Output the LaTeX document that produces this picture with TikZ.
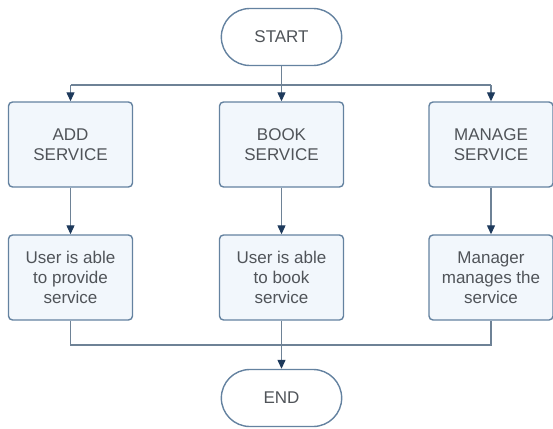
\documentclass[tikz,border=0pt]{standalone}
\usepackage{fontspec}
\setmainfont{Liberation Sans}
\usetikzlibrary{shapes.misc,arrows.meta}
\definecolor{boxfill}{HTML}{F2F7FC}
\definecolor{boxline}{HTML}{6482A0}
\definecolor{conn}{HTML}{6E8296}
\definecolor{tip}{HTML}{1E3A5C}
\definecolor{txt}{HTML}{505459}
\tikzset{
  procbox/.style={draw=boxline, line width=1.4pt, fill=boxfill, rounded corners=4pt,
    minimum width=124pt, minimum height=85pt, align=center, text=txt,
    font=\fontsize{17}{20}\selectfont, inner sep=2pt},
  termbox/.style={draw=boxline, line width=1.4pt, fill=white, rounded rectangle,
    minimum width=127pt, minimum height=57pt, text=txt,
    font=\fontsize{17}{20}\selectfont},
  conline/.style={draw=conn, line width=1.2pt},
  conarrow/.style={conline, -{Triangle[length=9pt,width=8pt,fill=tip,color=tip]}}
}
\begin{document}
\begin{tikzpicture}[x=1pt,y=-1pt]
\useasboundingbox (0,0) rectangle (553,428);
\node[termbox] (start) at (281.5,37) {START};
\node[procbox] (add) at (70.5,144.5) {ADD\\SERVICE};
\node[procbox] (book) at (281.5,144.5) {BOOK\\SERVICE};
\node[procbox] (manage) at (491,144.5) {MANAGE\\SERVICE};
\node[procbox] (uadd) at (70.5,277.5) {User is able\\to provide\\service};
\node[procbox] (ubook) at (281.5,277.5) {User is able\\to book\\service};
\node[procbox] (umanage) at (491,277.5) {Manager\\manages the\\service};
\node[termbox] (end) at (281.5,398) {END};
\coordinate (split) at (281.5,85);
\coordinate (join) at (281.5,345);
% top distribution
\draw[conline] (start.south) -- (split);
\draw[conline] (add.north |- split) -- (manage.north |- split);
\draw[conarrow] (split) -- (book.north);
\draw[conarrow] (add.north |- split) -- (add.north);
\draw[conarrow] (manage.north |- split) -- (manage.north);
% middle
\draw[conarrow] (add.south) -- (uadd.north);
\draw[conarrow] (book.south) -- (ubook.north);
\draw[conarrow] (manage.south) -- (umanage.north);
% bottom join
\draw[conline] (uadd.south) -- (uadd.south |- join) -- (umanage.south |- join) -- (umanage.south);
\draw[conarrow] (ubook.south) -- (end.north);
\end{tikzpicture}
\end{document}
